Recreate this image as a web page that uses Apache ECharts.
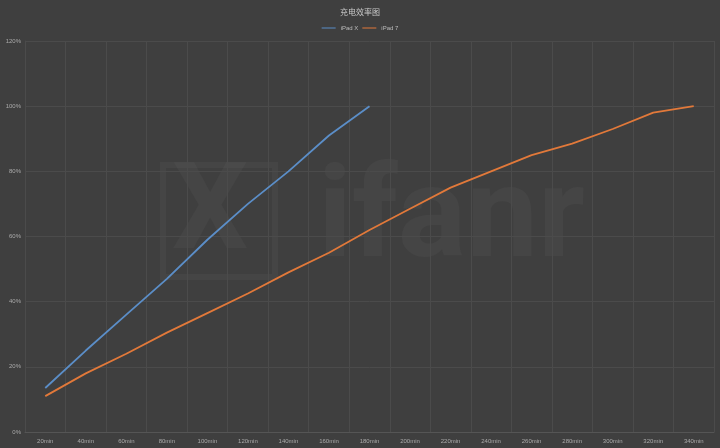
<!DOCTYPE html>
<html><head><meta charset="utf-8">
<script src="https://cdn.jsdelivr.net/npm/echarts@6/dist/echarts.min.js"></script>
<style>html,body{margin:0;padding:0;background:#3f3f3f}#c{width:720px;height:448px}</style>
</head><body><div id="c"></div>
<script>
const categories = ['20min','40min','60min','80min','100min','120min','140min','160min','180min','200min','220min','240min','260min','280min','300min','320min','340min'];
const seriesNames = ['iPad X','iPad 7'];
const seriesA = [13.5, 25, 36, 47, 59, 70, 80, 91, 100];
const seriesB = [11, 18, 24, 30.5, 36.5, 42.5, 49, 55, 62, 68.5, 75, 80, 85, 88.5, 93, 98, 100];
const yTicks = [0, 20, 40, 60, 80, 100, 120];

const chart = echarts.init(document.getElementById('c'));
chart.setOption({
  backgroundColor: '#3f3f3f',
  animation: false,
  title: { text: '充电效率图', left: 'center', top: 3,
    textStyle: { color: '#c8c8c8', fontSize: 8, fontWeight: 'normal', fontFamily: 'Noto Sans CJK SC' } },
  legend: { data: seriesNames, top: 20, left: 'center', itemWidth: 14, itemHeight: 1, itemGap: 4,
    icon: 'rect', textStyle: { color: '#bbbbbb', fontSize: 6 } },
  graphic: [{ type: 'text', left: 318, top: 160, silent: true, z: 0,
    style: { text: 'ifanr', font: 'bold 128px Roboto', fill: 'rgba(255,255,255,0.03)' } },
    { type: 'rect', left: 160, top: 162, silent: true, z: 0,
    shape: { width: 112, height: 112 }, style: { fill: 'none', stroke: 'rgba(255,255,255,0.03)', lineWidth: 6 } },
    { type: 'text', left: 172, top: 158, silent: true, z: 0,
    style: { text: 'X', font: 'bold 120px Roboto', fill: 'rgba(255,255,255,0.03)' } }],
  grid: { left: 25, right: 6, top: 41, bottom: 16, containLabel: false },
  xAxis: { type: 'category', data: categories, boundaryGap: true,
    axisLine: { lineStyle: { color: '#555' } }, axisTick: { show: false },
    axisLabel: { color: '#aaaaaa', fontSize: 6, margin: 6 },
    splitLine: { show: true, lineStyle: { color: '#4b4b4b', width: 1 } } },
  yAxis: { type: 'value', min: yTicks[0], max: yTicks[yTicks.length-1], interval: 20,
    axisLine: { show: true, lineStyle: { color: '#4b4b4b' } }, axisTick: { show: false },
    axisLabel: { color: '#aaaaaa', fontSize: 6, margin: 4, formatter: '{value}%' },
    splitLine: { lineStyle: { color: '#4b4b4b', width: 1 } } },
  series: [
    { name: seriesNames[0], type: 'line', data: seriesA, showSymbol: false, smooth: false,
      lineStyle: { color: '#5b8ec8', width: 1.8 }, itemStyle: { color: '#5b8ec8' } },
    { name: seriesNames[1], type: 'line', data: seriesB, showSymbol: false, smooth: false,
      lineStyle: { color: '#e2793a', width: 1.8 }, itemStyle: { color: '#e2793a' } }
  ]
});
</script></body></html>
